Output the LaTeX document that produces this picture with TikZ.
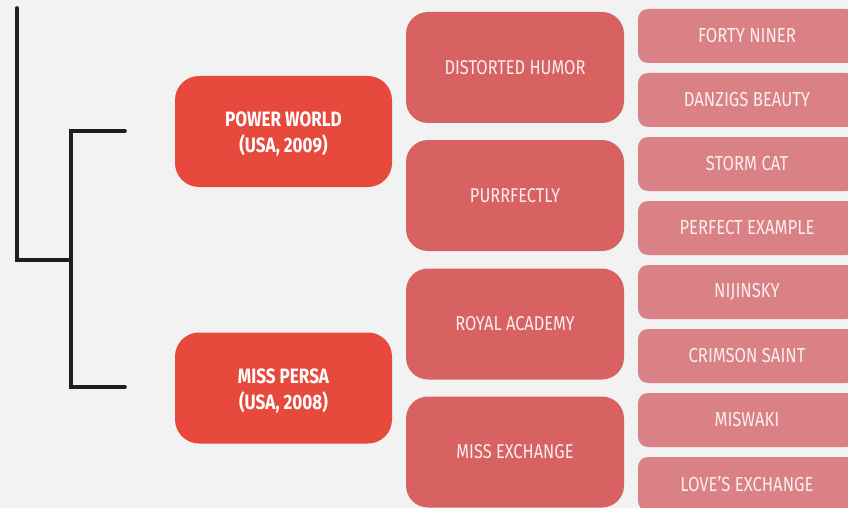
\documentclass[tikz,border=0pt]{standalone}
\usepackage{fontspec}
\setmainfont{Fira Sans}[FakeStretch=0.82]
\definecolor{bgc}{HTML}{F2F2F2}
\definecolor{lone}{HTML}{E74A3D}
\definecolor{ltwo}{HTML}{D86262}
\definecolor{lthree}{HTML}{D98185}
\definecolor{linec}{HTML}{1E1E1E}
\definecolor{txtc}{HTML}{FBEDED}
\tikzset{
  levone/.style={fill=lone, rounded corners=24pt, minimum width=217pt, minimum height=111pt, inner sep=0pt},
  lonetext/.style={text=white, font=\fontsize{20.8}{26}\selectfont\bfseries, align=center, inner sep=0pt, yshift=-2.5pt},
  levtwo/.style={fill=ltwo, rounded corners=22pt, minimum width=218pt, minimum height=111pt, text=txtc, font=\fontsize{20}{24}\selectfont, align=center, inner sep=0pt},
  levthree/.style={fill=lthree, rounded corners=10pt, minimum width=218pt, minimum height=54pt, text=txtc, font=\fontsize{20.3}{24}\selectfont, align=center, inner sep=0pt},
  bracket/.style={draw=linec, line width=3.6pt, line cap=round, line join=miter}
}
\begin{document}
\begin{tikzpicture}[x=1pt,y=-1pt]
\useasboundingbox (0,0) rectangle (848,508);
\clip (0,0) rectangle (848,508);
\fill[bgc] (0,0) rectangle (848,508);
% brackets
\coordinate (top) at (17,8);
\coordinate (elbow) at (17,260);
\coordinate (join) at (71,260);
\coordinate (ua) at (71,131);
\coordinate (ub) at (125,131);
\coordinate (la) at (71,387);
\coordinate (lb) at (125,387);
\draw[bracket] (top) -- (elbow) -- (join);
\draw[bracket] (ub) -- (ua) -- (la) -- (lb);
% level one
\node[levone, label={[lonetext]center:{POWER WORLD\\(USA, 2009)}}] (pw) at (283.5,131.5) {};
\node[levone, label={[lonetext]center:{MISS PERSA\\(USA, 2008)}}] (mp) at (283.5,388) {};
% level two
\node[levtwo] (dh) at (515,67.5) {DISTORTED HUMOR};
\node[levtwo] (pu) at (515,195.5) {PURRFECTLY};
\node[levtwo] (ra) at (515,324) {ROYAL ACADEMY};
\node[levtwo] (me) at (515,452) {MISS EXCHANGE};
% level three
\node[levthree] (fn) at (747,36) {FORTY NINER};
\node[levthree] (db) at (747,100) {DANZIGS BEAUTY};
\node[levthree] (sc) at (747,164) {STORM CAT};
\node[levthree] (pe) at (747,228) {PERFECT EXAMPLE};
\node[levthree] (nj) at (747,292) {NIJINSKY};
\node[levthree] (cs) at (747,356) {CRIMSON SAINT};
\node[levthree] (mw) at (747,420) {MISWAKI};
\node[levthree] (le) at (747,484) {LOVE’S EXCHANGE};
\end{tikzpicture}
\end{document}
